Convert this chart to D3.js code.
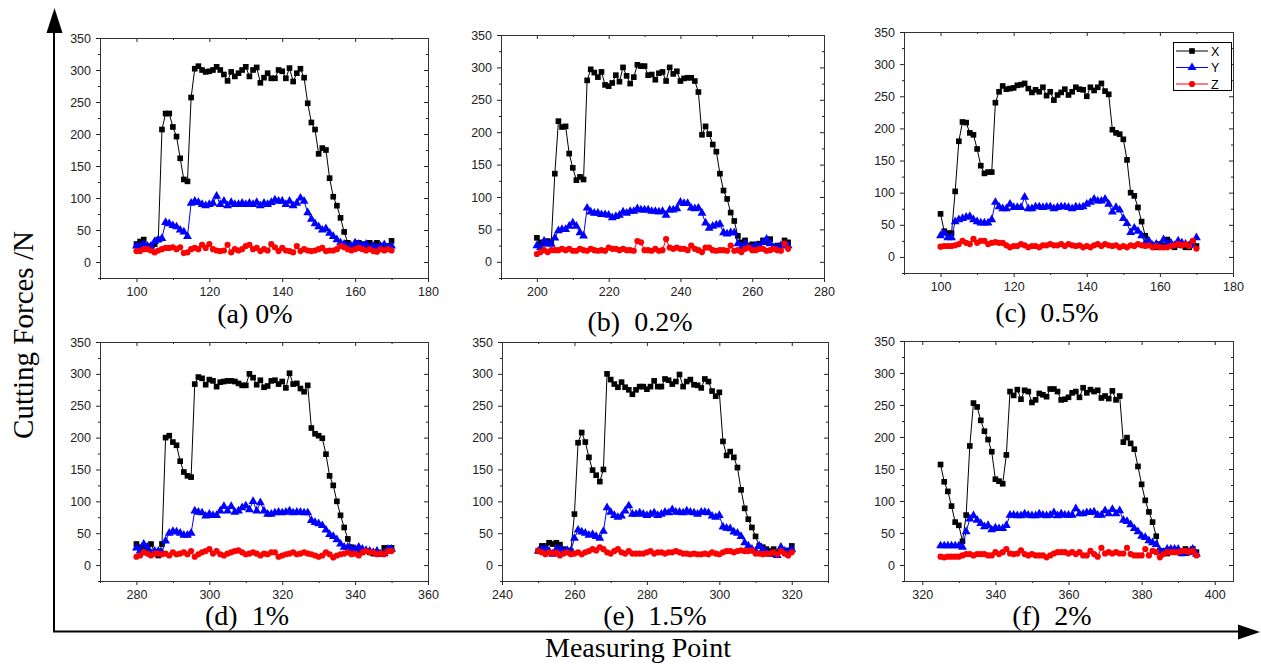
<!DOCTYPE html>
<html>
<head>
<meta charset="utf-8">
<script src="https://cdn.jsdelivr.net/npm/d3@7"></script>
<style>
  body { margin: 0; background: #fff; }
  svg { display: block; }
  .tick text { font-family: "Liberation Sans", Arial, sans-serif; font-size: 12.5px; fill: #222; }
  .cap { font-family: "Liberation Serif", "Times New Roman", serif; white-space: pre; }
</style>
</head>
<body>
<script>

// measuring point where each run starts (one reading per point, 71 points)
var startA = 100, startB = 200, startC = 100, startD = 280, startE = 250, startF = 325;

// (a) 0%
var xA = [28,32,35,25,22,28,35,207,232,232, 211,196,162,129,126,257,302,306,300,297,
          298,300,305,300,293,283,297,290,295,300, 305,290,300,304,280,288,295,287,287,300,
          298,287,303,282,295,302,288,248,218,207, 169,178,175,131,102,88,69,47,30,25,
          25,30,28,25,30,22,30,25,22,25, 33];
var yA = [25,25,28,25,25,32,35,37,62,60, 57,55,50,47,40,92,95,93,90,88,
          90,92,103,90,95,88,93,90,90,92, 90,92,90,93,88,92,90,93,97,95,
          95,90,95,88,92,100,95,77,67,60, 55,50,52,45,40,35,30,28,25,25,
          30,28,25,28,22,25,22,25,27,22, 25];
var zA = [17,17,20,20,18,15,18,20,22,22, 23,20,23,14,15,20,22,20,27,22,
          28,20,18,17,18,27,15,20,18,20, 25,27,20,22,17,20,18,28,23,17,
          22,18,17,15,25,17,20,18,17,18, 20,22,17,18,18,20,25,23,20,18,
          20,22,20,18,20,17,16,20,18,20, 18];

// (b) 0.2%
var xB = [37,30,28,32,30,136,217,208,209,167, 145,126,131,127,280,297,292,285,293,273,
          271,276,288,278,300,287,275,285,304,302, 302,288,289,281,291,293,279,300,290,294,
          279,283,284,284,279,262,196,209,197,181, 170,136,110,97,76,63,40,30,33,25,
          27,22,28,33,32,35,22,25,25,33, 30];
var yB = [25,22,32,28,27,37,48,50,50,55, 60,55,45,40,83,77,75,75,73,73,
          72,68,70,72,77,75,78,78,82,80, 80,80,78,78,77,78,72,80,80,82,
          92,90,90,83,82,83,75,60,52,55, 57,58,45,43,45,45,28,22,28,22,
          22,25,23,30,35,28,22,22,25,25, 25];
var zB = [12,15,18,15,18,18,18,20,18,20, 17,17,20,18,17,20,18,17,18,17,
          22,20,20,18,20,18,18,17,32,30, 18,18,17,20,17,18,35,22,20,22,
          20,20,18,25,20,18,15,22,22,18, 17,18,18,17,25,17,18,15,20,22,
          18,18,20,20,17,18,20,18,17,28, 20];

// (c) 0.5%
var xC = [67,40,37,37,102,180,210,209,193,190, 168,142,130,132,132,240,257,266,261,262,
          263,267,268,270,262,256,260,257,264,251, 257,244,252,256,261,252,257,264,261,260,
          250,264,259,264,270,258,253,198,193,191, 183,151,100,95,77,55,33,20,18,15,
          20,18,27,18,15,20,18,15,15,23, 17];
var yC = [33,37,30,30,55,58,60,62,63,58, 55,53,53,53,58,85,78,75,75,82,
          77,77,77,93,75,75,78,78,77,78, 78,75,77,78,78,77,75,78,77,78,
          82,85,90,87,87,90,82,70,77,73, 60,52,38,45,40,33,22,25,18,20,
          17,27,20,22,18,25,22,20,18,20, 30];
var zC = [16,17,17,17,18,20,25,22,20,28, 22,25,25,20,22,23,22,22,18,15,
          17,17,20,18,15,17,17,15,18,18, 20,18,18,20,17,20,18,17,18,15,
          17,15,18,20,17,20,18,17,18,15, 17,15,18,17,20,18,17,18,15,17,
          15,15,15,17,18,20,18,20,17,25, 13];

// (d) 1%
var xD = [33,28,30,25,33,20,15,33,200,203, 193,188,163,146,140,138,284,295,293,283,
          291,289,280,287,288,289,289,288,285,282, 282,300,294,283,290,279,281,289,290,284,
          288,278,301,284,285,277,272,282,215,206, 203,199,174,140,125,100,78,59,41,28,
          25,22,20,22,20,18,20,18,27,22, 27];
var yD = [27,22,33,28,18,22,22,20,38,50, 53,52,50,47,47,50,85,83,82,77,
          80,78,78,85,92,85,92,83,85,90, 93,87,100,85,98,85,80,80,82,83,
          82,83,85,82,83,83,82,82,70,67, 65,62,55,48,45,40,33,28,28,25,
          25,28,25,23,22,20,22,17,18,25, 25];
var zD = [13,15,20,18,15,18,18,17,18,15, 20,17,18,20,17,22,13,17,20,22,
          25,18,22,17,15,18,20,22,23,20, 17,18,20,18,15,18,17,20,20,13,
          15,17,18,20,17,18,20,18,17,15, 13,15,20,17,12,15,17,18,20,17,
          18,15,20,22,20,20,17,18,17,22, 22];

// (e) 1.5%
var xE = [22,30,30,35,33,35,32,25,23,22, 80,192,208,193,169,149,141,131,150,300,
          291,284,279,287,279,275,268,275,280,280, 276,280,289,280,280,292,290,284,288,299,
          280,288,291,283,282,278,292,288,273,265, 271,194,172,178,169,153,118,89,72,59,
          45,30,28,25,22,25,20,22,22,23, 30];
var yE = [22,25,25,22,17,25,25,22,23,22, 42,55,52,50,47,48,45,42,53,90,
          83,78,75,77,85,93,80,80,82,80, 78,80,82,78,80,83,82,87,83,83,
          82,85,83,82,80,83,83,82,77,75, 78,60,58,57,52,50,45,35,30,25,
          22,30,25,20,17,17,15,28,22,20, 25];
var zE = [22,20,17,20,18,20,15,18,20,17, 18,20,17,20,22,25,23,28,25,20,
          18,22,25,20,18,22,18,18,18,18, 20,22,18,20,20,18,20,20,22,20,
          18,18,17,18,17,17,18,17,20,18, 17,20,22,22,20,22,23,22,22,23,
          18,18,17,18,18,20,17,22,18,15, 20];

// (f) 2%
var xF = [157,130,115,92,67,62,37,78,186,253, 247,226,209,196,177,134,131,127,172,271,
          265,274,259,273,271,254,258,268,266,263, 275,275,271,258,259,262,269,271,262,277,
          269,274,271,273,261,264,260,272,258,264, 192,199,190,181,154,126,101,83,67,45,
          22,22,18,20,22,20,18,25,20,25, 20];
var yF = [30,30,30,30,30,30,28,52,72,77, 70,65,60,62,55,58,57,57,62,78,
          78,77,77,80,78,77,77,80,78,77, 78,82,77,80,78,78,78,88,80,80,
          82,82,83,78,78,85,80,87,80,85, 70,68,63,57,52,45,43,38,35,32,
          22,20,25,25,25,25,18,18,20,25, 17];
var zF = [13,12,13,13,13,13,15,17,17,15, 17,17,17,15,15,20,17,20,25,18,
          17,18,23,17,15,17,15,15,15,12, 15,18,20,20,20,18,20,17,20,15,
          15,22,17,13,27,18,20,18,20,18, 18,27,17,15,15,15,25,15,22,20,
          12,17,20,20,20,20,22,22,20,22, 15];

var captions = ["(a) 0%", "(b)  0.2%", "(c)  0.5%", "(d)  1%", "(e)  1.5%", "(f)  2%"];
var seriesNames = ["X", "Y", "Z"];
var yMajor = [0, 50, 100, 150, 200, 250, 300, 350];
var yMinor = [-25, 25, 75, 125, 175, 225, 275, 325];

// layout of the six small frames
var panels = [
  {x: xA, y: yA, z: zA, start: startA, dom: [90, 180],  left: 100, right: 428,  top: 38, bottom: 278, cx: 255,  cy: 323},
  {x: xB, y: yB, z: zB, start: startB, dom: [190, 280], left: 501, right: 824,  top: 35, bottom: 278, cx: 640,  cy: 331},
  {x: xC, y: yC, z: zC, start: startC, dom: [90, 180],  left: 904, right: 1233, top: 32, bottom: 273, cx: 1047, cy: 322},
  {x: xD, y: yD, z: zD, start: startD, dom: [270, 360], left: 100, right: 428,  top: 342, bottom: 581, cx: 247, cy: 625},
  {x: xE, y: yE, z: zE, start: startE, dom: [240, 330], left: 502, right: 828,  top: 342, bottom: 581, cx: 655, cy: 625},
  {x: xF, y: yF, z: zF, start: startF, dom: [315, 405], left: 904, right: 1233, top: 341, bottom: 581, cx: 1052, cy: 625}
];

var styles = [
  {color: "#000000", sym: d3.symbolSquare,   size: 32},
  {color: "#0000ff", sym: d3.symbolTriangle, size: 34},
  {color: "#ff0000", sym: d3.symbolCircle,   size: 30}
];

var svg = d3.select("body").append("svg")
    .attr("width", 1261)
    .attr("height", 664);

function range10(dom, step, skip) {
  var out = [];
  for (var v = Math.ceil(dom[0] / step) * step; v <= dom[1]; v += step) {
    if (skip && v % skip === 0) continue;
    out.push(v);
  }
  return out;
}

function drawPanel(p, i) {
  var x = d3.scaleLinear().domain(p.dom).range([p.left, p.right]);
  var y = d3.scaleLinear().domain([-25, 350]).range([p.bottom, p.top]);
  var xMajor = range10(p.dom, 20, 0);
  var xMinor = range10(p.dom, 10, 20);

  var g = svg.append("g");

  // outward ticks on left and bottom, inward ticks on right and top
  g.append("g").attr("transform", "translate(" + p.left + ",0)")
      .call(d3.axisLeft(y).tickValues(yMajor).tickSize(4).tickPadding(5));
  g.append("g").attr("transform", "translate(" + p.left + ",0)")
      .call(d3.axisLeft(y).tickValues(yMinor).tickSize(2).tickFormat(""));
  g.append("g").attr("transform", "translate(" + p.right + ",0)")
      .call(d3.axisRight(y).tickValues(yMajor).tickSize(-4).tickFormat(""));
  g.append("g").attr("transform", "translate(" + p.right + ",0)")
      .call(d3.axisRight(y).tickValues(yMinor).tickSize(-2).tickFormat(""));
  g.append("g").attr("transform", "translate(0," + p.bottom + ")")
      .call(d3.axisBottom(x).tickValues(xMajor).tickSize(4).tickPadding(5).tickFormat(d3.format("d")));
  g.append("g").attr("transform", "translate(0," + p.bottom + ")")
      .call(d3.axisBottom(x).tickValues(xMinor).tickSize(2).tickFormat(""));
  g.append("g").attr("transform", "translate(0," + p.top + ")")
      .call(d3.axisTop(x).tickValues(xMajor).tickSize(-4).tickFormat(""));
  g.append("g").attr("transform", "translate(0," + p.top + ")")
      .call(d3.axisTop(x).tickValues(xMinor).tickSize(-2).tickFormat(""));

  g.selectAll(".domain").remove();
  g.selectAll(".tick line").attr("stroke", "#222");

  g.append("rect")
      .attr("x", p.left + 0.5).attr("y", p.top + 0.5)
      .attr("width", p.right - p.left).attr("height", p.bottom - p.top)
      .attr("fill", "none").attr("stroke", "#333").attr("stroke-width", 1);

  var data = [p.x, p.y, p.z];
  data.forEach(function (vals, k) {
    var st = styles[k];
    var line = d3.line()
        .x(function (d, j) { return x(p.start + j); })
        .y(function (d) { return y(d); });
    g.append("path").datum(vals)
        .attr("d", line)
        .attr("fill", "none")
        .attr("stroke", st.color)
        .attr("stroke-width", 1);
    g.append("g").selectAll("path").data(vals).enter().append("path")
        .attr("d", d3.symbol().type(st.sym).size(st.size))
        .attr("transform", function (d, j) { return "translate(" + x(p.start + j) + "," + y(d) + ")"; })
        .attr("fill", st.color);
  });

  svg.append("text").attr("class", "cap")
      .attr("x", p.cx).attr("y", p.cy)
      .attr("text-anchor", "middle")
      .attr("font-size", 28)
      .text(captions[i]);
}

panels.forEach(drawPanel);

// legend inside (c)
var lg = svg.append("g");
lg.append("rect").attr("x", 1173.5).attr("y", 42.5).attr("width", 58).attr("height", 48)
    .attr("fill", "#fff").attr("stroke", "#000").attr("stroke-width", 1);
seriesNames.forEach(function (name, k) {
  var yy = 51 + k * 16.5;
  lg.append("line").attr("x1", 1176).attr("x2", 1208).attr("y1", yy).attr("y2", yy)
      .attr("stroke", styles[k].color).attr("stroke-width", 1);
  lg.append("path")
      .attr("d", d3.symbol().type(styles[k].sym).size(styles[k].size))
      .attr("transform", "translate(1192," + yy + ")")
      .attr("fill", styles[k].color);
  lg.append("text").attr("x", 1211).attr("y", yy + 4.5)
      .attr("font-family", "Liberation Sans, Arial, sans-serif")
      .attr("font-size", 12.5)
      .text(name);
});

// big axes with arrows
svg.append("line").attr("x1", 54).attr("y1", 632).attr("x2", 54).attr("y2", 30)
    .attr("stroke", "#000").attr("stroke-width", 2);
svg.append("path").attr("d", "M46.5,33 L62.5,33 L54.5,8 Z").attr("fill", "#000");
svg.append("line").attr("x1", 53).attr("y1", 631.5).attr("x2", 1240).attr("y2", 631.5)
    .attr("stroke", "#000").attr("stroke-width", 2);
svg.append("path").attr("d", "M1238,624.5 L1238,639.5 L1260,632 Z").attr("fill", "#000");

svg.append("text").attr("class", "cap")
    .attr("transform", "translate(33,335) rotate(-90)")
    .attr("text-anchor", "middle")
    .attr("font-size", 29)
    .text("Cutting Forces /N");

svg.append("text").attr("class", "cap")
    .attr("x", 638).attr("y", 657)
    .attr("text-anchor", "middle")
    .attr("font-size", 28)
    .text("Measuring Point");

</script>
</body>
</html>
